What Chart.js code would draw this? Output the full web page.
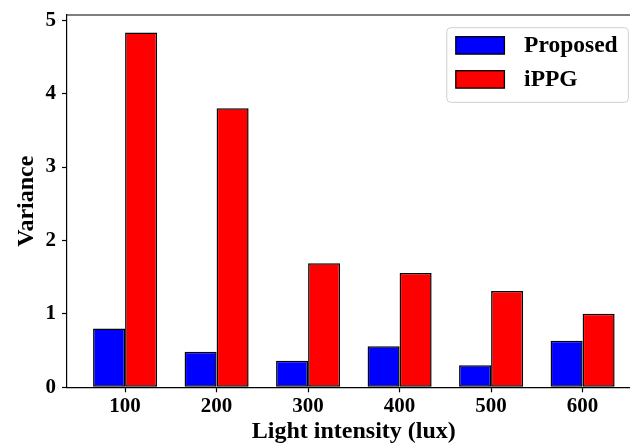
<!DOCTYPE html>
<html>
<head>
<meta charset="utf-8">
<script src="https://cdn.jsdelivr.net/npm/chart.js@4/dist/chart.umd.min.js"></script>
<style>
html,body{margin:0;padding:0;background:#fff;overflow:hidden;width:630px;height:448px;}
</style>
</head>
<body>
<canvas id="c" width="630" height="448"></canvas>
<script>
const categories = ["100", "200", "300", "400", "500", "600"];
const proposed = [0.80, 0.485, 0.36, 0.56, 0.30, 0.635];
const ippg = [4.83, 3.80, 1.69, 1.555, 1.31, 1.00];
const yTicks = [0, 1, 2, 3, 4, 5];
const seriesNames = ["Proposed", "iPPG"];
const seriesColors = ["#0000ff", "#ff0000"];
const xTitle = "Light intensity (lux)";
const yTitle = "Variance";

const X_MIN = -0.635, X_VISIBLE_MAX = 5.518, X_AXES_END = 5.635;
const FONT = "'Liberation Serif', 'Times New Roman', serif";

const frame = {
  id: 'frame',
  afterDatasetsDraw(chart) {
    const a = chart.chartArea, ctx = chart.ctx;
    const xs = chart.scales.x;
    ctx.save();
    ctx.strokeStyle = '#000';
    ctx.lineWidth = 1.2;
    ctx.beginPath();
    ctx.moveTo(a.left, a.top);
    ctx.lineTo(xs.getPixelForValue(X_AXES_END), a.top);
    ctx.stroke();
    // x-axis title centred on the full axes box
    ctx.fillStyle = '#000';
    ctx.font = "bold 24px " + FONT;
    ctx.textAlign = 'center';
    ctx.textBaseline = 'alphabetic';
    ctx.fillText(xTitle, (a.left + xs.getPixelForValue(X_AXES_END)) / 2, 438);
    ctx.restore();
  }
};

const legendBox = {
  id: 'legendBox',
  afterDraw(chart) {
    const a = chart.chartArea, ctx = chart.ctx;
    const axesRight = chart.scales.x.getPixelForValue(X_AXES_END);
    const w = 181.6, h = 74.6;
    const x = axesRight - 12.3 - w, y = a.top + 12.7;
    ctx.save();
    ctx.beginPath();
    if (ctx.roundRect) ctx.roundRect(x, y, w, h, 4); else ctx.rect(x, y, w, h);
    ctx.fillStyle = 'rgba(255,255,255,0.8)';
    ctx.fill();
    ctx.strokeStyle = '#d0d0d0';
    ctx.lineWidth = 1;
    ctx.stroke();
    ctx.font = "bold 23.5px " + FONT;
    ctx.textBaseline = 'middle';
    ctx.textAlign = 'left';
    chart.data.datasets.forEach((ds, i) => {
      const sy = y + 9 + i * 34;
      ctx.fillStyle = ds.backgroundColor;
      ctx.fillRect(x + 9, sy, 48.6, 17.4);
      ctx.strokeStyle = '#000';
      ctx.lineWidth = 1.3;
      ctx.strokeRect(x + 9, sy, 48.6, 17.4);
      ctx.fillStyle = '#000';
      ctx.fillText(ds.label, x + 77.3, sy + 9.5);
    });
    ctx.restore();
  }
};

new Chart(document.getElementById('c'), {
  type: 'bar',
  data: {
    datasets: [
      { label: seriesNames[0], data: proposed.map((v, i) => ({x: i, y: v})),
        backgroundColor: seriesColors[0], borderColor: '#000', borderWidth: 1.5, borderSkipped: false },
      { label: seriesNames[1], data: ippg.map((v, i) => ({x: i, y: v})),
        backgroundColor: seriesColors[1], borderColor: '#000', borderWidth: 1.5, borderSkipped: false }
    ]
  },
  options: {
    responsive: false,
    animation: false,
    events: [],
    categoryPercentage: 0.7,
    barPercentage: 1.0,
    layout: { padding: { top: 15, right: 0, left: 0, bottom: 0 } },
    plugins: { legend: { display: false }, tooltip: { enabled: false } },
    scales: {
      x: {
        type: 'linear',
        offset: false,
        min: X_MIN,
        max: X_VISIBLE_MAX,
        afterBuildTicks: (s) => { s.ticks = categories.map((c, i) => ({ value: i })); },
        afterFit: (s) => { s.height = 60.7; s.paddingLeft = 0; s.paddingRight = 0; },
        ticks: {
          callback: (v, idx) => categories[idx],
          font: { family: FONT, size: 21, weight: 'bold' },
          color: '#000',
          padding: 2,
          maxRotation: 0,
          autoSkip: false
        },
        grid: { offset: false, drawOnChartArea: false, drawTicks: true, tickLength: 5, tickColor: '#000', tickWidth: 1.2 },
        border: { display: true, color: '#000', width: 1.2 },
        title: { display: false }
      },
      y: {
        min: 0,
        max: 5.07,
        afterBuildTicks: (s) => { s.ticks = yTicks.map(v => ({ value: v })); },
        afterFit: (s) => { s.width = 67; s.paddingTop = 0; s.paddingBottom = 0; },
        ticks: {
          font: { family: FONT, size: 21, weight: 'bold' },
          color: '#000',
          padding: 6
        },
        grid: { drawOnChartArea: false, drawTicks: true, tickLength: 5, tickColor: '#000', tickWidth: 1.2 },
        border: { display: true, color: '#000', width: 1.2 },
        title: { display: true, text: yTitle, color: '#000',
          font: { family: FONT, size: 24, weight: 'bold' }, padding: { top: 12, bottom: 0 } }
      }
    }
  },
  plugins: [frame, legendBox]
});
</script>
</body>
</html>
